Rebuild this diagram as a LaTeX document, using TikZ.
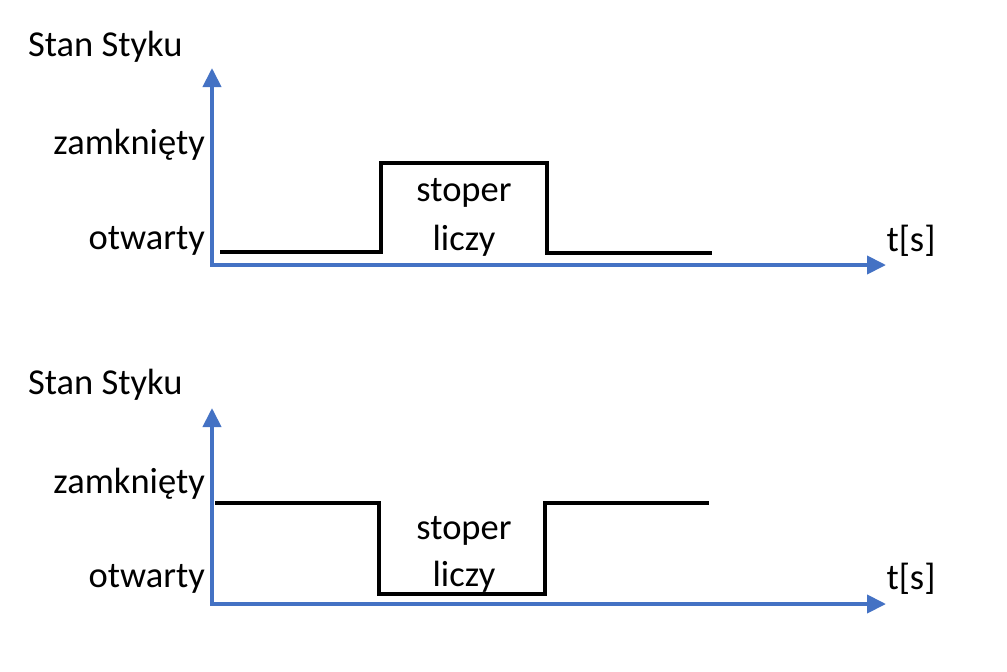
\documentclass[tikz,border=0pt]{standalone}
\usepackage{fontspec}
\setmainfont{Carlito}
\usetikzlibrary{arrows.meta}
\definecolor{axblue}{HTML}{4472C4}
\tikzset{
  axis/.style={draw=axblue, line width=4pt, -{Triangle[width=18pt,length=19pt]}},
  signal/.style={draw=black, line width=4.5pt, line cap=butt, line join=miter},
  lbl/.style={font=\fontsize{36.5}{40}\selectfont, inner sep=0pt, text=black},
}
\begin{document}
\begin{tikzpicture}[x=1pt,y=-1pt]
\useasboundingbox (0,0) rectangle (1007,672);
% ---------- top ----------
\coordinate (o1) at (212,265);
\coordinate (y1) at (212,68);
\coordinate (x1) at (886,265);
\draw[axis] (o1) -- (y1);
\draw[axis] (210,265) -- (x1);
\coordinate (s1a) at (220,252);
\coordinate (s1b) at (381,252);
\coordinate (s1c) at (381,163);
\coordinate (s1d) at (547,163);
\coordinate (s1e) at (547,253);
\coordinate (s1f) at (712,253);
\draw[signal] (s1a) -- (s1b) -- (s1c) -- (s1d) -- (s1e) -- (s1f);
\node[lbl, anchor=west] (title1) at (28,47) {Stan Styku};
\node[lbl, anchor=east] (z1) at (205,145) {zamknięty};
\node[lbl, anchor=east] (ot1) at (205,241) {otwarty};
\node[lbl] (st1) at (464,193) {stoper};
\node[lbl] (lc1) at (464,241) {liczy};
\node[lbl] (t1) at (911,241) {t[s]};
% ---------- bottom ----------
\coordinate (o2) at (212,605);
\coordinate (y2) at (212,408);
\coordinate (x2) at (886,604);
\draw[axis] (o2) -- (y2);
\draw[axis] (210,604) -- (x2);
\coordinate (s2a) at (215,503);
\coordinate (s2b) at (379,503);
\coordinate (s2c) at (379,594);
\coordinate (s2d) at (545,594);
\coordinate (s2e) at (545,503);
\coordinate (s2f) at (709,503);
\draw[signal] (s2a) -- (s2b) -- (s2c) -- (s2d) -- (s2e) -- (s2f);
\node[lbl, anchor=west] (title2) at (28,385) {Stan Styku};
\node[lbl, anchor=east] (z2) at (205,484) {zamknięty};
\node[lbl, anchor=east] (ot2) at (205,579) {otwarty};
\node[lbl] (st2) at (464,531) {stoper};
\node[lbl] (lc2) at (464,577) {liczy};
\node[lbl] (t2) at (911,579) {t[s]};
\end{tikzpicture}
\end{document}
